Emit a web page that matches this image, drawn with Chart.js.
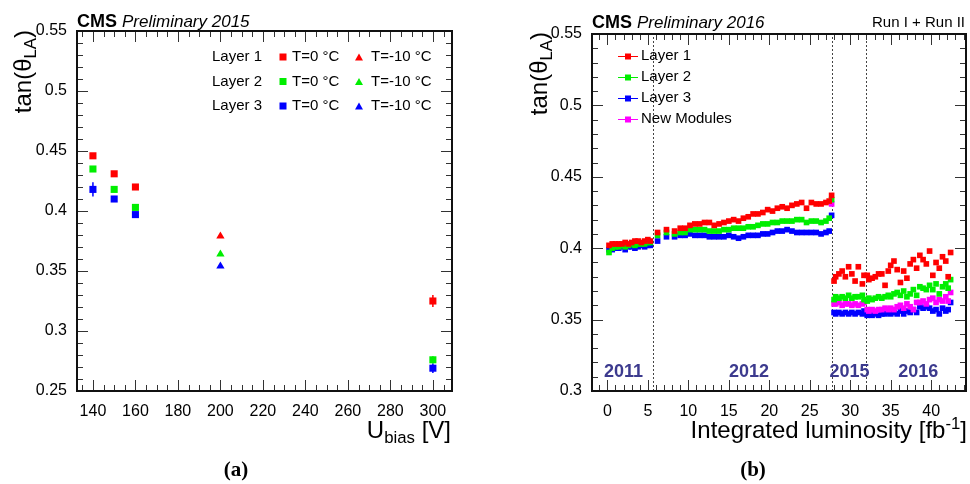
<!DOCTYPE html>
<html>
<head>
<meta charset="utf-8">
<script src="https://cdn.jsdelivr.net/npm/chart.js@4.4.0/dist/chart.umd.min.js"></script>
<style>
  body { margin: 0; background: #fff; }
  #wrap { position: relative; width: 970px; height: 484px; overflow: hidden; }
  .panel { position: absolute; top: 0; width: 485px; height: 484px; }
</style>
</head>
<body>
<div id="wrap">
  <div class="panel" style="left:0"><canvas id="chartA"></canvas></div>
  <div class="panel" style="left:485px"><canvas id="chartB"></canvas></div>
</div>
<script>
// ---- (a) tan(theta_LA) vs bias voltage ----
var biasT0 = [140, 150, 160, 300];
var biasTm10 = [200];
var layer1T0 = [0.446, 0.431, 0.420, 0.325];
var layer2T0 = [0.435, 0.418, 0.403, 0.276];
var layer3T0 = [0.418, 0.410, 0.397, 0.269];
var layer1Tm10 = [0.379];
var layer2Tm10 = [0.364];
var layer3Tm10 = [0.354];
var errL1T0 = [0.002, 0.002, 0.002, 0.005];
var errL2T0 = [0.002, 0.002, 0.002, 0.003];
var errL3T0 = [0.006, 0.002, 0.002, 0.004];
var biasTicks = [140, 160, 180, 200, 220, 240, 260, 280, 300];
var tanTicksA = [0.25, 0.3, 0.35, 0.4, 0.45, 0.5, 0.55];

// ---- (b) tan(theta_LA) vs integrated luminosity ----
var lumiRun1 = [0.2, 0.6, 1.0, 1.4, 1.8, 2.2, 2.6, 3.0, 3.4, 3.8, 4.2, 4.6, 5.0, 5.3,
  6.2, 7.3, 8.3, 9.0, 9.6, 10.2, 10.8, 11.4, 12.0, 12.6, 13.2, 13.8, 14.4, 15.0, 15.6, 16.2, 16.8,
  17.4, 18.0, 18.6, 19.2, 19.8, 20.4, 21.0, 21.6, 22.2, 22.8, 23.4, 24.0, 24.6, 25.2, 25.8, 26.4, 27.0, 27.4];
var layer1Run1 = [0.402, 0.403, 0.403, 0.403, 0.403, 0.404, 0.403, 0.404, 0.405, 0.405, 0.404, 0.405, 0.406, 0.405,
  0.411, 0.413, 0.412, 0.414, 0.414, 0.416, 0.417, 0.417, 0.418, 0.418, 0.416, 0.417, 0.418, 0.419, 0.420, 0.419, 0.421,
  0.422, 0.424, 0.424, 0.425, 0.427, 0.426, 0.428, 0.429, 0.428, 0.430, 0.431, 0.432, 0.428, 0.432, 0.431, 0.431, 0.432, 0.433];
var layer2Run1 = [0.397, 0.400, 0.401, 0.401, 0.402, 0.401, 0.402, 0.403, 0.402, 0.403, 0.403, 0.403, 0.404, 0.404,
  0.409, 0.411, 0.410, 0.411, 0.411, 0.413, 0.413, 0.413, 0.413, 0.412, 0.412, 0.412, 0.413, 0.413, 0.414, 0.414, 0.414,
  0.415, 0.415, 0.416, 0.417, 0.417, 0.418, 0.418, 0.419, 0.419, 0.419, 0.420, 0.420, 0.418, 0.419, 0.419, 0.418, 0.419, 0.421];
var layer3Run1 = [0.399, 0.399, 0.400, 0.400, 0.401, 0.399, 0.401, 0.401, 0.400, 0.401, 0.402, 0.401, 0.402, 0.402,
  0.405, 0.408, 0.408, 0.409, 0.409, 0.410, 0.409, 0.409, 0.409, 0.408, 0.408, 0.408, 0.408, 0.409, 0.408, 0.407, 0.408,
  0.409, 0.409, 0.409, 0.410, 0.410, 0.411, 0.412, 0.412, 0.413, 0.412, 0.411, 0.411, 0.411, 0.411, 0.411, 0.410, 0.411, 0.412];

var lumiRun2 = [27.7, 28.0, 28.2, 28.6, 29.0, 29.4, 29.8, 30.2, 30.6, 31.0, 31.5, 31.7, 32.1, 32.3, 32.7, 33.1, 33.5, 33.9,
  34.3, 34.7, 35.0, 35.4, 35.8, 36.2, 36.6, 37.0, 37.4, 37.8, 38.2, 38.6, 39.0, 39.4, 39.8, 40.2, 40.6, 41.0, 41.4, 41.8, 42.1, 42.4];
var layer1Run2 = [0.437, 0.377, 0.380, 0.382, 0.384, 0.380, 0.387, 0.382, 0.377, 0.387, 0.375, 0.381, 0.381, 0.378, 0.379,
  0.380, 0.382, 0.382, 0.374, 0.384, 0.388, 0.391, 0.385, 0.376, 0.384, 0.379, 0.389, 0.392, 0.386, 0.395, 0.392, 0.389,
  0.398, 0.381, 0.390, 0.386, 0.394, 0.391, 0.380, 0.397];
var layer2Run2 = [0.434, 0.364, 0.366, 0.365, 0.366, 0.365, 0.367, 0.365, 0.366, 0.366, 0.367, 0.364, 0.363, 0.365, 0.364,
  0.365, 0.366, 0.365, 0.366, 0.367, 0.366, 0.368, 0.369, 0.367, 0.370, 0.366, 0.368, 0.371, 0.367, 0.373, 0.372, 0.371,
  0.374, 0.371, 0.375, 0.368, 0.373, 0.375, 0.372, 0.378];
var layer3Run2 = [0.423, 0.355, 0.354, 0.355, 0.354, 0.355, 0.354, 0.355, 0.354, 0.355, 0.354, 0.356, 0.353, 0.354, 0.353,
  0.354, 0.353, 0.354, 0.354, 0.355, 0.354, 0.355, 0.354, 0.356, 0.354, 0.356, 0.355, 0.357, 0.355, 0.359, 0.358, 0.359,
  0.358, 0.356, 0.357, 0.354, 0.358, 0.356, 0.357, 0.362];
var newModRun2 = [0.431, 0.361, 0.361, 0.362, 0.360, 0.361, 0.361, 0.360, 0.361, 0.360, 0.361, 0.362, 0.357, 0.356, 0.357,
  0.356, 0.357, 0.357, 0.358, 0.357, 0.358, 0.357, 0.359, 0.360, 0.358, 0.361, 0.359, 0.357, 0.362, 0.362, 0.363, 0.361,
  0.364, 0.365, 0.362, 0.364, 0.363, 0.366, 0.363, 0.369];
var lumiTicks = [0, 5, 10, 15, 20, 25, 30, 35, 40];
var tanTicksB = [0.3, 0.35, 0.4, 0.45, 0.5, 0.55];
var periodEdges = [5.6, 27.8, 32.0];
var yearNames = ['2011', '2012', '2015', '2016'];
var yearCenters = [2.0, 17.5, 29.9, 38.4];

var FONT = "'Liberation Sans', Arial, Helvetica, sans-serif";
var RED = '#ff0000', GREEN = '#00ee00', BLUE = '#0000ff', MAGENTA = '#ff00ff';

function zip(xs, ys) {
  return xs.map(function (x, i) { return { x: x, y: ys[i] }; });
}
function setTicks(list) {
  return function (s) { s.ticks = list.map(function (v) { return { value: v }; }); };
}

// ROOT-like frame with inward major/minor ticks on all four sides
function rootFrame(xMinor, xMajor, yMinor, yMajor) {
  return {
    id: 'rootFrame',
    afterDatasetsDraw: function (chart) {
      var ctx = chart.ctx, a = chart.chartArea, xs = chart.scales.x, ys = chart.scales.y;
      ctx.save();
      ctx.strokeStyle = '#333';
      ctx.lineWidth = 1;
      ctx.beginPath();
      var r = Math.round(xMajor / xMinor);
      for (var i = Math.ceil(xs.min / xMinor - 1e-6); i * xMinor <= xs.max + 1e-9; i++) {
        var px = Math.round(xs.getPixelForValue(i * xMinor)) + 0.5;
        var len = (i % r === 0) ? 11 : 6;
        ctx.moveTo(px, a.bottom); ctx.lineTo(px, a.bottom - len);
        ctx.moveTo(px, a.top); ctx.lineTo(px, a.top + len);
      }
      r = Math.round(yMajor / yMinor);
      for (var j = Math.ceil(ys.min / yMinor - 1e-6); j * yMinor <= ys.max + 1e-9; j++) {
        var py = Math.round(ys.getPixelForValue(j * yMinor)) + 0.5;
        var ln = (j % r === 0) ? 11 : 6;
        ctx.moveTo(a.left, py); ctx.lineTo(a.left + ln, py);
        ctx.moveTo(a.right, py); ctx.lineTo(a.right - ln, py);
      }
      ctx.stroke();
      ctx.lineWidth = 2;
      ctx.strokeStyle = '#111';
      ctx.strokeRect(a.left, a.top, a.right - a.left, a.bottom - a.top);
      ctx.restore();
    }
  };
}

// text with sub (s=1) / superscript (s=-1) pieces, right-aligned at (x, y)
function richText(ctx, parts, x, y, size, rotate) {
  ctx.save();
  ctx.translate(x, y);
  if (rotate) ctx.rotate(-Math.PI / 2);
  ctx.textAlign = 'left';
  ctx.textBaseline = 'alphabetic';
  ctx.fillStyle = '#000';
  var total = 0;
  parts.forEach(function (p) {
    ctx.font = (p.s ? size * 0.7 : size) + 'px ' + FONT;
    total += ctx.measureText(p.t).width;
  });
  var cx = -total;
  parts.forEach(function (p) {
    ctx.font = (p.s ? size * 0.7 : size) + 'px ' + FONT;
    var dy = p.s === 1 ? size * 0.22 : (p.s === -1 ? -size * 0.38 : 0);
    ctx.fillText(p.t, cx, dy);
    cx += ctx.measureText(p.t).width;
  });
  ctx.restore();
}

function cmsHeader(ctx, x, y, year) {
  ctx.save();
  ctx.fillStyle = '#000';
  ctx.textAlign = 'left';
  ctx.textBaseline = 'alphabetic';
  ctx.font = 'bold 18px ' + FONT;
  ctx.fillText('CMS', x, y);
  var w = ctx.measureText('CMS ').width;
  ctx.font = 'italic 17px ' + FONT;
  ctx.fillText('Preliminary ' + year, x + w, y);
  ctx.restore();
}

function caption(ctx, text, cx, cy) {
  ctx.save();
  ctx.fillStyle = '#000';
  ctx.font = "bold 21px 'Liberation Serif', 'Times New Roman', serif";
  ctx.textAlign = 'center';
  ctx.textBaseline = 'middle';
  ctx.fillText(text, cx, cy);
  ctx.restore();
}

function square(ctx, x, y, side, color) {
  ctx.fillStyle = color;
  ctx.fillRect(x - side / 2, y - side / 2, side, side);
}
function triangle(ctx, x, y, w, color) {
  var h = w * 0.87;
  ctx.fillStyle = color;
  ctx.beginPath();
  ctx.moveTo(x, y - h / 2); ctx.lineTo(x + w / 2, y + h / 2); ctx.lineTo(x - w / 2, y + h / 2);
  ctx.closePath();
  ctx.fill();
}

var errorBars = {
  id: 'errorBars',
  beforeDatasetsDraw: function (chart) {
    var ctx = chart.ctx, ys = chart.scales.y;
    chart.data.datasets.forEach(function (ds, k) {
      if (!ds.errors) return;
      var meta = chart.getDatasetMeta(k);
      ctx.save();
      ctx.strokeStyle = ds.backgroundColor;
      ctx.lineWidth = 1.5;
      meta.data.forEach(function (pt, i) {
        var v = ds.data[i].y, e = ds.errors[i];
        ctx.beginPath();
        ctx.moveTo(pt.x, ys.getPixelForValue(v - e));
        ctx.lineTo(pt.x, ys.getPixelForValue(v + e));
        ctx.stroke();
      });
      ctx.restore();
    });
  }
};

var decorA = {
  id: 'decorA',
  afterDraw: function (chart) {
    var ctx = chart.ctx;
    cmsHeader(ctx, 77, 27, '2015');
    richText(ctx, [{ t: 'tan(\u03b8' }, { t: 'LA', s: 1 }, { t: ')' }], 31, 30, 24, true);
    richText(ctx, [{ t: 'U' }, { t: 'bias', s: 1 }, { t: ' [V]' }], 451, 438, 24, false);
    // legend
    var rows = [['Layer 1', RED], ['Layer 2', GREEN], ['Layer 3', BLUE]];
    var rowY = [57, 81.5, 106];
    ctx.save();
    ctx.font = '15px ' + FONT;
    ctx.textBaseline = 'middle';
    rows.forEach(function (r, i) {
      var y = rowY[i];
      ctx.fillStyle = '#000';
      ctx.fillText(r[0], 212, y);
      ctx.fillText('T=0 \u00b0C', 292, y);
      ctx.fillText('T=-10 \u00b0C', 371, y);
      square(ctx, 283, y, 7, r[1]);
      triangle(ctx, 359, y, 8, r[1]);
    });
    ctx.restore();
    caption(ctx, '(a)', 236, 471);
  }
};

var decorB = {
  id: 'decorB',
  beforeDatasetsDraw: function (chart) {
    var ctx = chart.ctx, a = chart.chartArea, xs = chart.scales.x, ys = chart.scales.y;
    ctx.save();
    ctx.strokeStyle = '#444';
    ctx.lineWidth = 1;
    ctx.setLineDash([2, 2]);
    periodEdges.forEach(function (v) {
      var px = Math.round(xs.getPixelForValue(v)) + 0.5;
      ctx.beginPath();
      ctx.moveTo(px, a.bottom); ctx.lineTo(px, a.top);
      ctx.stroke();
    });
    ctx.setLineDash([]);
    ctx.fillStyle = '#3c3a8e';
    ctx.font = 'bold 18px ' + FONT;
    ctx.textAlign = 'center';
    ctx.textBaseline = 'middle';
    yearNames.forEach(function (t, i) {
      ctx.fillText(t, xs.getPixelForValue(yearCenters[i]), 372);
    });
    ctx.restore();
  },
  afterDraw: function (chart) {
    var ctx = chart.ctx;
    cmsHeader(ctx, 107, 28, '2016');
    ctx.save();
    ctx.fillStyle = '#000';
    ctx.font = '15px ' + FONT;
    ctx.textAlign = 'right';
    ctx.fillText('Run I + Run II', 480, 27);
    ctx.restore();
    richText(ctx, [{ t: 'tan(\u03b8' }, { t: 'LA', s: 1 }, { t: ')' }], 62, 32, 24, true);
    richText(ctx, [{ t: 'Integrated luminosity [fb' }, { t: '-1', s: -1 }, { t: ']' }], 482, 438, 24, false);
    var rows = [['Layer 1', RED], ['Layer 2', GREEN], ['Layer 3', BLUE], ['New Modules', MAGENTA]];
    var rowY = [56, 77, 98, 119];
    ctx.save();
    ctx.font = '15px ' + FONT;
    ctx.textBaseline = 'middle';
    rows.forEach(function (r, i) {
      var y = rowY[i];
      ctx.strokeStyle = r[1];
      ctx.lineWidth = 1;
      ctx.beginPath();
      ctx.moveTo(133, y + 0.5); ctx.lineTo(153, y + 0.5);
      ctx.stroke();
      square(ctx, 143, y + 0.5, 6, r[1]);
      ctx.fillStyle = '#000';
      ctx.fillText(r[0], 156, y);
    });
    ctx.restore();
    caption(ctx, '(b)', 268, 471);
  }
};

function axisX(min, max, ticks) {
  return {
    type: 'linear', min: min, max: max,
    afterBuildTicks: setTicks(ticks),
    afterFit: function (s) { s.height = 93; },
    grid: { display: false }, border: { display: false },
    ticks: { font: { family: FONT, size: 16 }, color: '#000', padding: 3, maxRotation: 0, autoSkip: false }
  };
}
function axisY(min, max, ticks, width) {
  return {
    type: 'linear', min: min, max: max,
    afterBuildTicks: setTicks(ticks),
    afterFit: function (s) { s.width = width; },
    grid: { display: false }, border: { display: false },
    ticks: {
      font: { family: FONT, size: 16 }, color: '#000', padding: 2, autoSkip: false,
      callback: function (v) { return String(+v.toFixed(2)); }
    }
  };
}

function pts(xs, ys, color, style, radius, errs) {
  var ds = {
    data: zip(xs, ys), backgroundColor: color, borderColor: color,
    pointStyle: style, pointRadius: radius, pointHoverRadius: radius, pointBorderWidth: 0, showLine: false
  };
  if (errs) ds.errors = errs;
  return ds;
}

new Chart(document.getElementById('chartA'), {
  type: 'scatter',
  data: {
    datasets: [
      pts(biasT0, layer1T0, RED, 'rect', 5, errL1T0),
      pts(biasT0, layer2T0, GREEN, 'rect', 5, errL2T0),
      pts(biasT0, layer3T0, BLUE, 'rect', 5, errL3T0),
      pts(biasTm10, layer1Tm10, RED, 'triangle', 4.8),
      pts(biasTm10, layer2Tm10, GREEN, 'triangle', 4.8),
      pts(biasTm10, layer3Tm10, BLUE, 'triangle', 4.8)
    ]
  },
  options: {
    animation: false,
    responsive: true,
    maintainAspectRatio: false,
    layout: { padding: { top: 31, right: 33, left: 0, bottom: 0 } },
    plugins: { legend: { display: false }, tooltip: { enabled: false } },
    scales: { x: axisX(132.5, 309, biasTicks), y: axisY(0.25, 0.55, tanTicksA, 77) }
  },
  plugins: [errorBars, rootFrame(5, 20, 0.01, 0.05), decorA]
});

new Chart(document.getElementById('chartB'), {
  type: 'scatter',
  data: {
    datasets: [
      pts(lumiRun1, layer1Run1, RED, 'rect', 4),
      pts(lumiRun2, layer1Run2, RED, 'rect', 4),
      pts(lumiRun1, layer2Run1, GREEN, 'rect', 4),
      pts(lumiRun2, layer2Run2, GREEN, 'rect', 4),
      pts(lumiRun2, newModRun2, MAGENTA, 'rect', 4),
      pts(lumiRun1, layer3Run1, BLUE, 'rect', 4),
      pts(lumiRun2, layer3Run2, BLUE, 'rect', 4)
    ]
  },
  options: {
    animation: false,
    responsive: true,
    maintainAspectRatio: false,
    layout: { padding: { top: 34, right: 3, left: 0, bottom: 0 } },
    plugins: { legend: { display: false }, tooltip: { enabled: false } },
    scales: { x: axisX(-1.9, 44.3, lumiTicks), y: axisY(0.3, 0.55, tanTicksB, 107) }
  },
  plugins: [decorB, rootFrame(1, 5, 0.01, 0.05)]
});
</script>
</body>
</html>
